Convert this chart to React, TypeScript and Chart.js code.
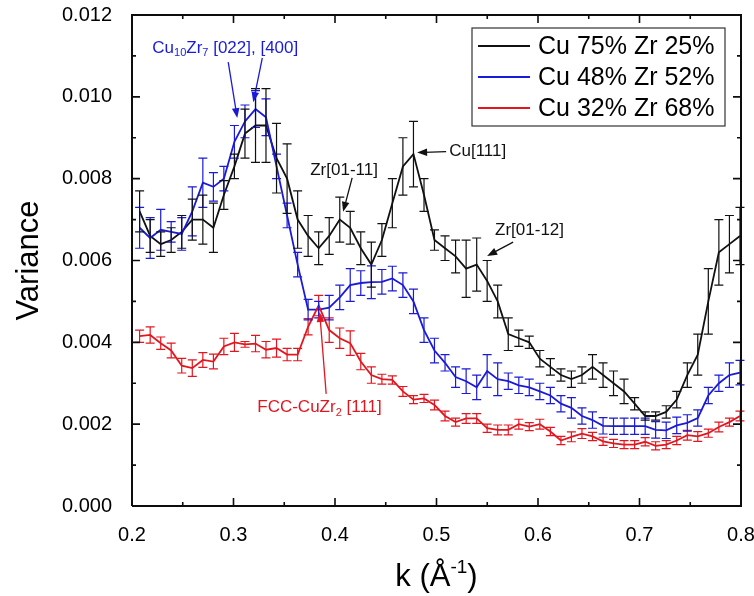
import React, { useEffect, useRef } from 'react';
import { Chart, registerables } from 'chart.js';

Chart.register(...registerables);

// ---- data ----
const kValues = [
  0.2075, 0.2179, 0.2283, 0.2386, 0.2490, 0.2594, 0.2698, 0.2802, 0.2905, 0.3009,
  0.3113, 0.3217, 0.3320, 0.3424, 0.3528, 0.3632, 0.3735, 0.3839, 0.3943, 0.4047,
  0.4150, 0.4254, 0.4358, 0.4462, 0.4565, 0.4669, 0.4773, 0.4877, 0.4980, 0.5084,
  0.5188, 0.5292, 0.5396, 0.5499, 0.5603, 0.5707, 0.5811, 0.5914, 0.6018, 0.6122,
  0.6226, 0.6329, 0.6433, 0.6537, 0.6641, 0.6744, 0.6848, 0.6952, 0.7056, 0.7159,
  0.7263, 0.7367, 0.7471, 0.7574, 0.7678, 0.7782, 0.7886, 0.7990,
];

const cu75 = [
  0.0072, 0.0066, 0.0064, 0.0065, 0.0067, 0.0070, 0.0070, 0.0068, 0.0076, 0.0083,
  0.0091, 0.0093, 0.0093, 0.0085, 0.0080, 0.0070, 0.0066, 0.0063, 0.0066, 0.0070,
  0.0068, 0.0063, 0.0059, 0.0065, 0.0074, 0.0083, 0.0086, 0.0076, 0.0065, 0.0063,
  0.0061, 0.0058, 0.0059, 0.0055, 0.0050, 0.0042, 0.0041, 0.0040, 0.0036, 0.0034,
  0.0032, 0.0031, 0.0032, 0.0034, 0.0032, 0.0030, 0.0028, 0.0025, 0.0022, 0.0022,
  0.0023, 0.0026, 0.0032, 0.0037, 0.0050, 0.0062, 0.0064, 0.0066,
];
const cu75Err = [
  0.0005, 0.0004, 0.0003, 0.0003, 0.0004, 0.0005, 0.0006, 0.0006, 0.00035, 0.0003,
  0.0006, 0.0009, 0.0009, 0.00085, 0.00085, 0.0007, 0.0005, 0.0004, 0.00045, 0.00055,
  0.0004, 0.0004, 0.00055, 0.0004, 0.0006, 0.0007, 0.0008, 0.0004, 0.00025, 0.0003,
  0.0004, 0.0007, 0.00065, 0.0005, 0.0004, 0.0004, 0.0002, 0.00015, 0.0002, 0.0002,
  0.00015, 0.0002, 0.0002, 0.0003, 0.0003, 0.0003, 0.0003, 0.00015, 0.0001, 0.0001,
  0.00015, 0.0002, 0.0003, 0.0005, 0.0008, 0.0008, 0.0007, 0.0007,
];

const cu48 = [
  0.0068, 0.00655, 0.00675, 0.0067, 0.00665, 0.0072, 0.0079, 0.0078, 0.0080, 0.0089,
  0.0094, 0.0097, 0.0095, 0.0083, 0.0071, 0.0059, 0.0048, 0.0048, 0.00485, 0.0051,
  0.0054, 0.00545, 0.00547, 0.00548, 0.00556, 0.0054, 0.0050, 0.0043, 0.0038, 0.0035,
  0.00315, 0.00305, 0.0029, 0.0033, 0.0031, 0.00305, 0.00295, 0.0029, 0.0028, 0.0027,
  0.0025, 0.0024, 0.0022, 0.0021, 0.00196, 0.00195, 0.00195, 0.00195, 0.00195, 0.00186,
  0.00185, 0.00197, 0.00203, 0.00215, 0.0027, 0.0030, 0.0032, 0.00326,
];
const cu48Err = [
  0.0005, 0.0005, 0.0005, 0.00025, 0.0004, 0.0006, 0.0006, 0.00035, 0.0003, 0.0004,
  0.0004, 0.00045, 0.00045, 0.0003, 0.0003, 0.0003, 0.00025, 0.0002, 0.0003, 0.0003,
  0.0004, 0.0003, 0.0004, 0.0003, 0.0003, 0.0003, 0.0003, 0.0003, 0.0003, 0.0002,
  0.00025, 0.0003, 0.0003, 0.0004, 0.0004, 0.0002, 0.0002, 0.0002, 0.0002, 0.0002,
  0.0002, 0.00025, 0.0002, 0.0002, 0.0002, 0.0002, 0.0002, 0.0002, 0.0002, 0.0002,
  0.0002, 0.0002, 0.0002, 0.0002, 0.0002, 0.0002, 0.0003, 0.0003,
];

const cu32 = [
  0.00415, 0.00418, 0.00398, 0.0038, 0.00343, 0.00337, 0.00357, 0.00353, 0.0039, 0.0040,
  0.00395, 0.00397, 0.00382, 0.00386, 0.0037, 0.0037, 0.00438, 0.0049, 0.0043, 0.0041,
  0.00398, 0.00353, 0.0032, 0.0031, 0.00308, 0.0028, 0.0026, 0.00263, 0.00247, 0.0022,
  0.00205, 0.00214, 0.00214, 0.0019, 0.00186, 0.00186, 0.0020, 0.00194, 0.0020, 0.00182,
  0.0016, 0.00169, 0.00177, 0.0017, 0.00158, 0.00153, 0.0015, 0.0015, 0.00157, 0.00147,
  0.0015, 0.0016, 0.00173, 0.0017, 0.00178, 0.00193, 0.00205, 0.0022,
];
const cu32Err = [
  0.00015, 0.0002, 0.00015, 0.00018, 0.00018, 0.0002, 0.00018, 0.00018, 0.0002, 0.00022,
  0.00007, 0.0002, 0.0002, 0.00022, 0.00015, 0.00015, 0.0002, 0.00025, 0.0003, 0.00025,
  0.0003, 0.0002, 0.0002, 0.00012, 0.0001, 0.00012, 0.0001, 0.0001, 0.00012, 0.00012,
  0.0001, 0.00012, 0.00012, 0.0001, 0.00012, 0.00012, 0.00012, 0.0001, 0.00012, 0.0001,
  0.0001, 0.00012, 0.00012, 0.0001, 0.0001, 0.0001, 0.0001, 0.0001, 0.0001, 0.0001,
  0.0001, 0.0001, 0.00012, 0.00012, 0.0001, 0.00012, 0.0001, 0.00012,
];

const seriesLabels = ['Cu 75% Zr 25%', 'Cu 48% Zr 52%', 'Cu 32% Zr 68%'];
const xMin = 0.2;
const xMax = 0.8;
const yMin = 0;
const yMax = 0.012;
const xTickValues = [0.2, 0.3, 0.4, 0.5, 0.6, 0.7, 0.8];
const xMinorTicks = [0.25, 0.35, 0.45, 0.55, 0.65, 0.75];
const yTickValues = [0, 0.002, 0.004, 0.006, 0.008, 0.01, 0.012];
const yMinorTicks = [0.001, 0.003, 0.005, 0.007, 0.009, 0.011];
const xTitleParts = ['k (\u00C5', '-1', ')'];
const yTitle = 'Variance';

// ---- styles ----
const FONT = '"Liberation Sans", Arial, Helvetica, sans-serif';
const AXIS = '#0d0d0d';
const BLACK = '#111111';
const BLUE = '#1a1ad8';
const RED = '#e3161f';
const seriesColors = [BLACK, BLUE, RED];
const seriesValues = [cu75, cu48, cu32];
const seriesErrors = [cu75Err, cu48Err, cu32Err];

type Seg = { t: string; sub?: boolean };
type Note = { segs: Seg[]; color: string; tx: number; ty: number; arrows: number[][] };

// annotation text anchors and arrows, in data coordinates (k, variance)
const notes: Note[] = [
  {
    segs: [{ t: 'Cu' }, { t: '10', sub: true }, { t: 'Zr' }, { t: '7', sub: true }, { t: ' [022], [400]' }],
    color: BLUE, tx: 0.22, ty: 0.01119,
    arrows: [[0.2948, 0.01085, 0.3037, 0.00948], [0.3284, 0.01095, 0.3195, 0.00987]],
  },
  { segs: [{ t: 'Zr[01-11]' }], color: BLACK, tx: 0.3756, ty: 0.00821, arrows: [[0.4169, 0.00802, 0.408, 0.00719]] },
  { segs: [{ t: 'Cu[111]' }], color: BLACK, tx: 0.5125, ty: 0.00868, arrows: [[0.5095, 0.00866, 0.4809, 0.00864]] },
  { segs: [{ t: 'Zr[01-12]' }], color: BLACK, tx: 0.5577, ty: 0.00675, arrows: [[0.5755, 0.00645, 0.5499, 0.00611]] },
  {
    segs: [{ t: 'FCC-CuZr' }, { t: '2', sub: true }, { t: ' [111]' }],
    color: RED, tx: 0.3234, ty: 0.0024,
    arrows: [[0.3913, 0.00274, 0.3849, 0.00474]],
  },
];

function drawArrow(ctx: CanvasRenderingContext2D, x1: number, y1: number, x2: number, y2: number, color: string) {
  const a = Math.atan2(y2 - y1, x2 - x1);
  const head = 10;
  const w = 3.8;
  ctx.save();
  ctx.strokeStyle = color;
  ctx.fillStyle = color;
  ctx.lineWidth = 1.3;
  ctx.beginPath();
  ctx.moveTo(x1, y1);
  ctx.lineTo(x2 - head * 0.7 * Math.cos(a), y2 - head * 0.7 * Math.sin(a));
  ctx.stroke();
  const bx = x2 - head * Math.cos(a);
  const by = y2 - head * Math.sin(a);
  ctx.beginPath();
  ctx.moveTo(x2, y2);
  ctx.lineTo(bx + w * Math.sin(a), by - w * Math.cos(a));
  ctx.lineTo(bx - w * Math.sin(a), by + w * Math.cos(a));
  ctx.closePath();
  ctx.fill();
  ctx.restore();
}

// error bars, plus the boxed frame with inward ticks, drawn with the same path calls
const errorBarPlugin = {
  id: 'errorBars',
  afterDatasetsDraw(chart: any) {
    const ctx = chart.ctx as CanvasRenderingContext2D;
    const xs = chart.scales.x;
    const ys = chart.scales.y;
    ctx.save();
    for (let s = seriesValues.length - 1; s >= 0; s--) {
      const vals = seriesValues[s];
      const errs = seriesErrors[s];
      ctx.strokeStyle = seriesColors[s];
      ctx.lineWidth = 1.2;
      ctx.beginPath();
      for (let i = 0; i < kValues.length; i++) {
        const x = xs.getPixelForValue(kValues[i]);
        const yt = ys.getPixelForValue(vals[i] + errs[i]);
        const yb = ys.getPixelForValue(vals[i] - errs[i]);
        ctx.moveTo(x, yt);
        ctx.lineTo(x, yb);
        ctx.moveTo(x - 4.5, yt);
        ctx.lineTo(x + 4.5, yt);
        ctx.moveTo(x - 4.5, yb);
        ctx.lineTo(x + 4.5, yb);
      }
      ctx.stroke();
    }

    const L = xs.getPixelForValue(xMin);
    const R = xs.getPixelForValue(xMax);
    const T = ys.getPixelForValue(yMax);
    const B = ys.getPixelForValue(yMin);
    ctx.strokeStyle = AXIS;
    ctx.lineWidth = 1.6;
    ctx.beginPath();
    for (const v of xTickValues) {
      const x = xs.getPixelForValue(v);
      ctx.moveTo(x, B); ctx.lineTo(x, B - 8);
      ctx.moveTo(x, T); ctx.lineTo(x, T + 8);
    }
    for (const v of xMinorTicks) {
      const x = xs.getPixelForValue(v);
      ctx.moveTo(x, B); ctx.lineTo(x, B - 4);
      ctx.moveTo(x, T); ctx.lineTo(x, T + 4);
    }
    for (const v of yTickValues) {
      const y = ys.getPixelForValue(v);
      ctx.moveTo(L, y); ctx.lineTo(L + 8, y);
      ctx.moveTo(R, y); ctx.lineTo(R - 8, y);
    }
    for (const v of yMinorTicks) {
      const y = ys.getPixelForValue(v);
      ctx.moveTo(L, y); ctx.lineTo(L + 4, y);
      ctx.moveTo(R, y); ctx.lineTo(R - 4, y);
    }
    ctx.stroke();
    ctx.lineWidth = 2;
    ctx.beginPath();
    ctx.moveTo(L, T); ctx.lineTo(R, T);
    ctx.moveTo(R, T); ctx.lineTo(R, B);
    ctx.moveTo(R, B); ctx.lineTo(L, B);
    ctx.moveTo(L, B); ctx.lineTo(L, T);
    ctx.stroke();
    ctx.restore();
  },
};

const overlayPlugin = {
  id: 'overlay',
  afterDraw(chart: any) {
    const ctx = chart.ctx as CanvasRenderingContext2D;
    const area = chart.chartArea;
    const xs = chart.scales.x;
    const ys = chart.scales.y;
    ctx.save();
    for (const n of notes) {
      let x = xs.getPixelForValue(n.tx);
      const y = ys.getPixelForValue(n.ty);
      ctx.fillStyle = n.color;
      ctx.textBaseline = 'middle';
      ctx.textAlign = 'left';
      for (const sg of n.segs) {
        ctx.font = sg.sub ? `11px ${FONT}` : `17px ${FONT}`;
        ctx.fillText(sg.t, x, sg.sub ? y + 5 : y);
        x += ctx.measureText(sg.t).width;
      }
      for (const a of n.arrows) {
        drawArrow(ctx, xs.getPixelForValue(a[0]), ys.getPixelForValue(a[1]), xs.getPixelForValue(a[2]), ys.getPixelForValue(a[3]), n.color);
      }
    }

    // legend box
    const bw = 253;
    const bh = 98;
    const bx = area.right - 269;
    const by = area.top + 13;
    ctx.fillStyle = '#fff';
    ctx.fillRect(bx, by, bw, bh);
    ctx.strokeStyle = '#333';
    ctx.lineWidth = 1.2;
    ctx.strokeRect(bx, by, bw, bh);
    ctx.font = `25px ${FONT}`;
    ctx.textBaseline = 'middle';
    ctx.textAlign = 'left';
    for (let s = 0; s < seriesLabels.length; s++) {
      const ly = by + 18 + s * 31;
      ctx.strokeStyle = seriesColors[s];
      ctx.lineWidth = 2;
      ctx.beginPath();
      ctx.moveTo(bx + 6, ly);
      ctx.lineTo(bx + 58, ly);
      ctx.stroke();
      ctx.fillStyle = '#000';
      ctx.fillText(seriesLabels[s], bx + 66, ly + 1);
    }

    // x axis title with superscript
    ctx.fillStyle = '#000';
    ctx.textBaseline = 'alphabetic';
    const big = `31px ${FONT}`;
    const small = `19px ${FONT}`;
    ctx.font = big;
    const w0 = ctx.measureText(xTitleParts[0]).width;
    const w2 = ctx.measureText(xTitleParts[2]).width;
    ctx.font = small;
    const w1 = ctx.measureText(xTitleParts[1]).width;
    const total = w0 + w1 + w2;
    let tx = (area.left + area.right) / 2 - total / 2;
    const baseY = area.bottom + 80;
    ctx.font = big;
    ctx.fillText(xTitleParts[0], tx, baseY);
    tx += w0;
    ctx.font = small;
    ctx.fillText(xTitleParts[1], tx, baseY - 13);
    tx += w1;
    ctx.font = big;
    ctx.fillText(xTitleParts[2], tx, baseY);
    ctx.restore();
  },
};

export default function App() {
  const canvasRef = useRef<HTMLCanvasElement | null>(null);

  useEffect(() => {
    if (!canvasRef.current) return;
    const datasets: any[] = seriesLabels.map((label, s) => ({
      label,
      data: kValues.map((k, i) => ({ x: k, y: seriesValues[s][i] })),
      borderColor: seriesColors[s],
      backgroundColor: seriesColors[s],
      borderWidth: 1.8,
      pointRadius: 0,
      tension: 0,
      order: 3 - s,
    }));
    // plot frame along the axis limits
    datasets.push({
      label: 'frame',
      data: [
        { x: xMin, y: yMin },
        { x: xMax, y: yMin },
        { x: xMax, y: yMax },
        { x: xMin, y: yMax },
        { x: xMin, y: yMin },
      ],
      borderColor: AXIS,
      backgroundColor: AXIS,
      borderWidth: 2,
      pointRadius: 0,
      tension: 0,
      clip: false,
      order: -1,
    });
    const zeroPad = (scale: any) => {
      scale.paddingTop = 0;
      scale.paddingBottom = 0;
      scale.paddingLeft = 0;
      scale.paddingRight = 0;
    };
    const chart = new Chart(canvasRef.current, {
      type: 'line',
      data: { datasets },
      options: {
        animation: false,
        responsive: true,
        maintainAspectRatio: false,
        layout: { padding: { top: 15, right: 13, left: 0, bottom: 0 } },
        plugins: { legend: { display: false }, tooltip: { enabled: false } },
        scales: {
          x: {
            type: 'linear',
            min: xMin,
            max: xMax,
            grid: { display: false },
            border: { display: false },
            afterBuildTicks: (scale: any) => { scale.ticks = xTickValues.map((v) => ({ value: v })); },
            afterFit: (scale: any) => { scale.height = 90; zeroPad(scale); },
            ticks: {
              padding: 9,
              color: '#000',
              font: { family: FONT, size: 20 },
              maxRotation: 0,
              callback: (v: any) => Number(v).toFixed(1),
            },
          },
          y: {
            type: 'linear',
            min: yMin,
            max: yMax,
            grid: { display: false },
            border: { display: false },
            afterBuildTicks: (scale: any) => { scale.ticks = yTickValues.map((v) => ({ value: v })); },
            afterFit: (scale: any) => { scale.width = 132; zeroPad(scale); },
            ticks: {
              padding: 12,
              color: '#000',
              font: { family: FONT, size: 20 },
              callback: (v: any) => Number(v).toFixed(3),
            },
            title: {
              display: true,
              text: yTitle,
              color: '#000',
              font: { family: FONT, size: 31 },
              padding: { top: 11, bottom: 0 },
            },
          },
        },
      },
      plugins: [errorBarPlugin, overlayPlugin],
    } as any);
    return () => chart.destroy();
  }, []);

  return (
    <div style={{ position: 'absolute', left: 0, top: 0, width: 754, height: 596, background: '#fff' }}>
      <canvas ref={canvasRef} />
    </div>
  );
}
